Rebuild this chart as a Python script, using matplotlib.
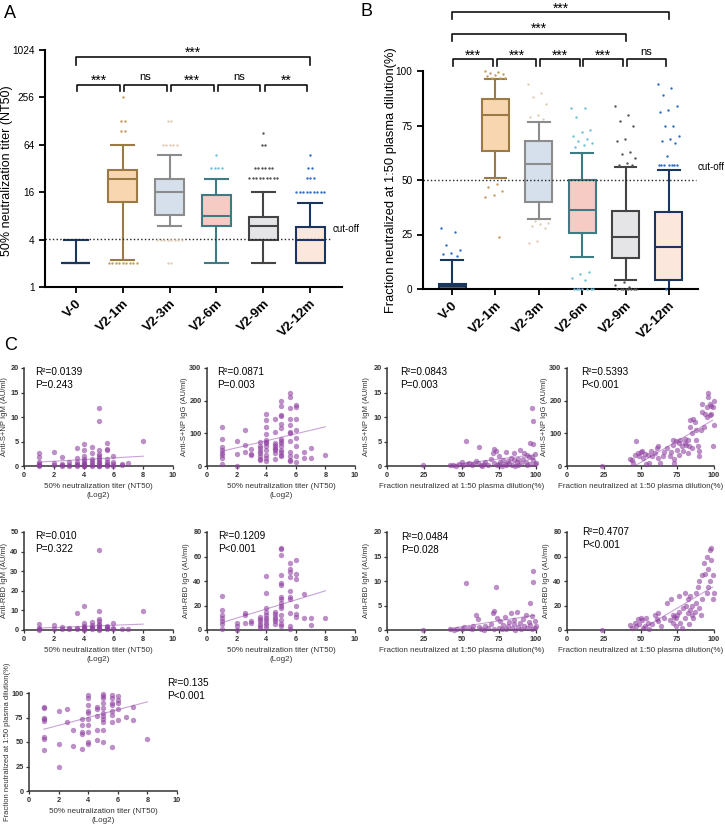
import numpy as np
import matplotlib
matplotlib.use("Agg")
import matplotlib.pyplot as plt
from collections import Counter

plt.rcParams["font.family"] = ["Liberation Sans", "DejaVu Sans"]

W, H = 725, 831

# ---------------- data ----------------
groups = ["V-0", "V2-1m", "V2-3m", "V2-6m", "V2-9m", "V2-12m"]

# panel A: NT50 (log2 axis)
a_q1 = [2, 12, 8.2, 6, 4, 2]
a_med = [2, 23.6, 16, 8, 6, 4]
a_q3 = [2, 30.7, 23.6, 14.7, 7.8, 5.8]
a_lo = [2, 2.2, 6, 2, 2, 2]
a_hi = [4, 64, 47.5, 23.6, 16, 11.8]
a_fliers = [
    [],
    [256, 128, 128, 96, 96] + [2] * 9,
    [128, 128] + [64] * 5 + [4] * 8 + [2, 2],
    [48] + [32] * 4,
    [90, 64, 64] + [32] * 6 + [24] * 9,
    [48, 32, 32, 24, 24, 24] + [16] * 9,
]
a_sig = ["***", "ns", "***", "ns", "**"]
a_sig_all = "***"
cutoff_a = 4.1

# panel B: fraction neutralized (%)
b_q1 = [0, 63.3, 40, 25.7, 14.2, 4.1]
b_med = [1.5, 79.8, 57.2, 36.2, 23.9, 19.4]
b_q3 = [2.2, 87, 68, 50, 35.8, 35.3]
b_lo = [0, 51, 32, 14.8, 4.1, 0]
b_hi = [13.5, 96.5, 76.6, 62.3, 56.1, 54.6]
b_fliers = [
    [28, 26, 20, 18, 16.5, 16, 15],
    [100, 99.5, 99, 98.5, 98, 97.5, 97, 97, 96.8, 48, 47, 45, 43, 42, 24],
    [94, 90, 88, 85, 80, 79, 78, 31, 30.5, 30, 29, 28, 22, 21],
    [83, 83, 79, 73, 72, 70, 69, 68, 67, 66, 65, 8, 7, 5, 4, 0, 0, 0, 0, 0, 0, 0],
    [84, 80, 77, 75, 69, 68, 63, 62, 60, 58, 57, 57, 3, 2, 1, 0, 0, 0, 0, 0, 0, 0, 0],
    [94, 92, 89, 84, 82, 81, 75, 75, 70, 69, 68, 67, 61, 57, 57, 57, 57, 57, 57, 57, 0],
]
b_sig = ["***", "***", "***", "***", "ns"]
b_sig_v0_9m = "***"
b_sig_v0_12m = "***"
cutoff_b = 50

box_faces_a = ["white", "#f8d6b0", "#d5e0ec", "#f5cbc4", "#e5e5e8", "#fce7dd"]
box_faces_b = ["#6b6b6b", "#f8d6b0", "#d5e0ec", "#f5cbc4", "#e5e5e8", "#fce7dd"]
box_edges = ["#1b365d", "#9c7a45", "#8c8c8c", "#3f7b82", "#444444", "#1a3560"]
flier_colors = ["#2f6ec7", "#c49a5e", "#e0cdb5", "#6cc0da", "#555555", "#2f6ec7"]

# panel C: correlations (NT50 in log2 -> list of y values)
c1_nt50_igm = {1: [2.7, 1.8, 0.8, 0.5, 0.3, 0.2, 0.1], 2: [2.8, 0.6, 0.3], 2.58: [1.8, 0.4, 0.2, 0.1],
               3: [0.8, 0.3, 0.1], 3.58: [3.6, 1.6, 0.8, 0.5, 0.3, 0.1],
               4: [4.5, 3.3, 2.0, 1.4, 1.0, 0.7, 0.4, 0.2, 0.1, 0.0],
               4.58: [3.8, 2.6, 1.5, 1.0, 0.6, 0.3, 0.1],
               5: [11.8, 9.1, 3.2, 2.4, 2.0, 1.6, 1.2, 0.9, 0.6, 0.3, 0.1, 0.0],
               5.58: [4.7, 3.4, 3.3, 1.4, 0.9, 0.5, 0.2, 0.1], 6: [2.0, 0.8, 0.4, 0.1],
               6.58: [0.5, 0.2], 7: [0.6], 8: [5.2]}
c2_nt50_igg = {1: [120, 82, 57, 50, 40, 35, 25, 5], 2: [78, 36, 0], 2.58: [111, 65, 43], 3: [53, 38, 34],
               3.58: [73, 62, 55, 47, 40, 30, 22, 18],
               4: [160, 140, 120, 98, 80, 75, 70, 60, 48, 35, 25, 14],
               4.58: [145, 105, 70, 65, 58, 52, 48, 40, 20],
               5: [200, 185, 157, 153, 130, 115, 82, 78, 70, 62, 50, 42, 35, 30],
               5.58: [222, 212, 178, 145, 125, 105, 100, 78, 42, 30, 18, 14],
               6: [188, 180, 145, 110, 85, 62, 30, 12], 6.58: [42, 23], 7: [55, 25], 8: [35]}
c3_frac = [24, 42, 44, 46, 48, 50, 51, 53, 54, 55, 57, 58, 60, 61, 62, 63, 64, 65, 66, 68, 70, 71, 72, 72,
           73, 74, 75, 75, 76, 77, 78, 79, 80, 80, 81, 82, 83, 84, 85, 85, 86, 87, 88, 88, 89, 90, 91, 92,
           93, 94, 95, 96, 96, 97, 98, 98, 98, 99, 99, 100, 97, 94]
c3_igm = [0.2, 0.3, 0.2, 0.1, 0.5, 0.8, 0.3, 5.2, 0.5, 0.7, 0.2, 0.4, 1.1, 0.6, 3.8, 0.3, 0.1, 0.5, 0.8,
          0.3, 1.5, 2.6, 3.5, 0.7, 3.1, 0.2, 2.0, 0.4, 0.9, 0.1, 1.3, 0.5, 2.8, 0.2, 1.0, 0.6, 1.7, 0.3,
          2.7, 1.2, 0.1, 0.8, 1.4, 0.3, 3.2, 0.6, 1.5, 2.7, 0.9, 0.2, 1.8, 4.6, 0.5, 11.8, 9.1, 4.5, 1.2,
          0.4, 2.4, 0.6, 1.8, 2.2]
c4_frac = [24, 43, 44, 45, 46, 47, 48, 49, 50, 51, 52, 53, 54, 55, 56, 57, 58, 60, 61, 62, 62, 63, 65, 66,
           68, 70, 71, 72, 72, 73, 73, 74, 75, 76, 76, 77, 78, 79, 80, 80, 81, 82, 82, 83, 84, 84, 85, 85,
           86, 87, 88, 88, 89, 90, 90, 91, 92, 92, 93, 94, 95, 95, 96, 96, 97, 97, 98, 98, 99, 99, 100, 100]
c4_igg = [0, 22, 18, 10, 35, 78, 40, 30, 42, 45, 25, 38, 5, 35, 10, 45, 30, 40, 55, 62, 25, 10, 30, 42,
          55, 30, 42, 80, 65, 10, 22, 78, 50, 35, 70, 80, 60, 45, 82, 70, 65, 80, 40, 60, 120, 140, 100, 55,
          145, 135, 80, 110, 60, 45, 30, 110, 165, 190, 120, 160, 180, 150, 222, 210, 190, 155, 185, 160,
          180, 62, 125, 200]
c5_nt50_igm = {1: [3, 1, 0.5, 0.2], 2: [2.8, 0.5], 2.58: [1.4, 0.5], 3: [0.8, 0.3], 3.58: [8.8, 1.0, 0.5],
               4: [12.2, 3.5, 2.2, 1.5, 1.0, 0.5, 0.2], 4.58: [4.0, 2.5, 1.5, 0.8, 0.3],
               5: [41, 9.8, 5.8, 4.5, 3.2, 2.5, 1.6, 1.0, 0.5, 0.2], 5.58: [2.0, 1.5, 0.8, 0.3],
               6: [3.5, 1.0, 0.3], 6.58: [0.5], 7: [0.3], 8: [9.5]}
c6_nt50_igg = {1: [28, 16, 12, 10, 7, 5, 1], 2: [6, 3, 0], 2.58: [14, 12, 6], 3: [7, 6],
               3.58: [11, 9, 7, 5, 3, 2], 4: [44, 30, 18, 15, 12, 10, 8, 6, 4, 2],
               4.58: [15, 13, 11, 9, 7, 5],
               5: [67, 66, 61, 45, 38, 37, 27, 25, 22, 20, 18, 12, 8, 5, 3],
               5.58: [55, 50, 47, 43, 32, 27, 25, 14, 3, 1], 6: [57, 46, 42, 20, 13, 11],
               6.58: [29, 10], 7: [10, 4], 8: [10]}
c7_frac = [24, 42, 45, 47, 50, 52, 53, 55, 57, 58, 60, 61, 62, 63, 65, 66, 68, 70, 71, 72, 72, 73, 74, 75,
           76, 77, 78, 79, 80, 81, 82, 83, 84, 85, 85, 86, 87, 88, 89, 90, 91, 92, 93, 94, 95, 96, 96, 97,
           97, 98, 98, 99, 99, 100]
c7_igm = [0.1, 0.2, 0.1, 0.3, 0.2, 0.6, 9.5, 0.4, 0.2, 0.8, 3.0, 2.3, 0.7, 0.3, 0.1, 0.9, 0.4, 1.2, 3.4,
          3.8, 0.2, 8.7, 2.5, 0.5, 1.8, 0.2, 1.0, 2.7, 0.3, 0.8, 1.6, 3.5, 0.4, 2.1, 1.2, 0.1, 3.7, 0.6,
          1.5, 0.2, 2.3, 0.9, 3.1, 0.4, 1.7, 5.5, 1.1, 0.3, 2.8, 9.8, 12.1, 1.9, 0.5, 0.8]
c8_frac = [24, 43, 44, 46, 47, 48, 49, 50, 51, 52, 53, 54, 55, 56, 58, 60, 61, 62, 62, 64, 66, 68, 70, 71,
           72, 72, 73, 74, 74, 75, 76, 76, 77, 78, 79, 80, 80, 81, 82, 82, 83, 84, 84, 85, 85, 86, 87, 88,
           88, 89, 90, 90, 91, 92, 92, 93, 94, 95, 95, 96, 96, 97, 97, 98, 98, 99, 99, 100]
c8_igg = [0, 4, 2, 6, 3, 9, 5, 10, 8, 2, 3, 10, 6, 1, 5, 12, 9, 7, 14, 3, 10, 22, 8, 25, 12, 6, 11, 10, 3,
          12, 15, 28, 6, 2, 18, 10, 30, 20, 14, 25, 5, 16, 28, 12, 20, 10, 15, 30, 22, 35, 40, 18, 12, 45,
          25, 55, 46, 30, 60, 35, 50, 65, 40, 67, 57, 45, 25, 30]
c9_nt50_frac = {1: [86, 85, 75, 73, 71, 55, 53, 42], 2: [82, 48, 24], 2.58: [84, 70], 3: [46, 62],
                3.58: [73, 67, 60, 43, 58], 4: [98, 95, 88, 82, 80, 73, 67, 60, 50, 48],
                4.58: [86, 84, 77, 62, 52], 5: [99, 97, 95, 90, 85, 80, 77, 73, 70, 62, 50],
                5.58: [98, 95, 90, 88, 82, 78, 70, 45], 6: [97, 93, 90, 84, 72], 6.58: [76],
                7: [86, 72], 8: [53]}

# fitted lines: ([x0, x1], [y0, y1])
c1_fit = ([1, 8], [0.8, 2.0])
c2_fit = ([1, 8], [45, 120])
c3_fit = ([42, 99], [0.2, 2.3])
c4_fit = ([46, 99], [0, 140])
c5_fit = ([1, 8], [1.0, 3.0])
c6_fit = ([1, 8], [6, 32])
c7_fit = ([42, 99], [0.3, 3.0])
c8_fit = ([50, 99], [0, 35])
c9_fit = ([1, 8], [63, 91])

c_stats = [("R\u00b2=0.0139", "P=0.243"), ("R\u00b2=0.0871", "P=0.003"), ("R\u00b2=0.0843", "P=0.003"),
           ("R\u00b2=0.5393", "P<0.001"), ("R\u00b2=0.010", "P=0.322"), ("R\u00b2=0.1209", "P<0.001"),
           ("R\u00b2=0.0484", "P=0.028"), ("R\u00b2=0.4707", "P<0.001"), ("R\u00b2=0.135", "P<0.001")]

nt50_label = "50% neutralization titer (NT50)\n(Log2)"
frac_label = "Fraction neutralized at 1:50 plasma dilution(%)"


def expand(d):
    xs, ys = [], []
    for k, v in d.items():
        xs += [k] * len(v)
        ys += v
    return xs, ys


fig = plt.figure(figsize=(W / 100, H / 100), dpi=100)


def px_axes(l, t, r, b):
    return fig.add_axes([l / W, 1 - b / H, (r - l) / W, (b - t) / H])


def style_box_axes(ax):
    ax.spines["top"].set_visible(False)
    ax.spines["right"].set_visible(False)
    ax.spines["left"].set_linewidth(1.5)
    ax.spines["bottom"].set_linewidth(1.5)
    ax.tick_params(width=1.3, length=4, labelsize=7.2)
    ax.set_xticks(range(1, 7))
    ax.set_xticklabels(groups, rotation=45, ha="right", rotation_mode="anchor",
                       fontsize=9.5, fontweight="bold")


def draw_boxes(ax, q1, med, q3, lo, hi, faces):
    stats = [dict(q1=a, med=b, q3=c, whislo=d, whishi=e, fliers=[])
             for a, b, c, d, e in zip(q1, med, q3, lo, hi)]
    bp = ax.bxp(stats, positions=range(1, 7), widths=0.62, capwidths=0.5,
                patch_artist=True, showfliers=False, manage_ticks=False)
    for i in range(6):
        bp["boxes"][i].set(facecolor=faces[i], edgecolor=box_edges[i], linewidth=1.5, zorder=2)
        bp["medians"][i].set(color=box_edges[i], linewidth=1.5, zorder=2.5)
        for art in bp["whiskers"][2 * i:2 * i + 2] + bp["caps"][2 * i:2 * i + 2]:
            art.set(color=box_edges[i], linewidth=1.5)


def bracket(ax, x0, x1, ytop, yend, label, ytext):
    ax.plot([x0, x0, x1, x1], [yend, ytop, ytop, yend], color="#111111", lw=1.2, clip_on=False)
    xc = (x0 + x1) / 2
    if "*" in label:
        # asterisks sit high in the em box: anchor the baseline below the visual centre
        ax.annotate(label, (xc, ytext), xytext=(0, -5.8), textcoords="offset points",
                    ha="center", va="baseline", fontsize=10, annotation_clip=False)
    else:
        ax.text(xc, ytext, label, ha="center", va="center", fontsize=8, clip_on=False)


# ---------------- panel A ----------------
axA = px_axes(45, 50, 342, 287)
axA.set_yscale("log", base=2)
draw_boxes(axA, a_q1, a_med, a_q3, a_lo, a_hi, box_faces_a)
for i, fl in enumerate(a_fliers):
    for val, n in Counter(fl).items():
        offs = (np.arange(n) - (n - 1) / 2) * 0.075
        axA.scatter(i + 1 + offs, [val] * n, s=3, color=flier_colors[i], lw=0, zorder=3, clip_on=False)
axA.set_ylim(1, 1024)
axA.set_xlim(0.34, 6.68)
axA.set_yticks([1, 4, 16, 64, 256, 1024])
axA.set_yticklabels(["1", "4", "16", "64", "256", "1024"])
axA.minorticks_off()
style_box_axes(axA)
axA.plot([0.34, 6.42], [cutoff_a, cutoff_a], ls=":", color="#222222", lw=1)
axA.text(6.48, 5.4, "cut-off", fontsize=7, va="center", clip_on=False)
for i in range(5):
    bracket(axA, i + 1.03, i + 1.94, 367, 311, a_sig[i], 468)
bracket(axA, 1, 6, 827, 662, a_sig_all, 1054)
fig.text(7 / W, 1 - 171 / H, "50% neutralization titer (NT50)", rotation=90,
         ha="center", va="center", fontsize=9)

# ---------------- panel B ----------------
axB = px_axes(423, 71, 698, 289)
draw_boxes(axB, b_q1, b_med, b_q3, b_lo, b_hi, box_faces_b)
for i, fl in enumerate(b_fliers):
    k = np.arange(len(fl))
    offs = ((k * 0.618) % 1 - 0.5) * 0.5
    axB.scatter(i + 1 + offs, fl, s=3, color=flier_colors[i], lw=0, zorder=3, clip_on=False)
axB.set_ylim(0, 100)
axB.set_xlim(0.33, 6.67)
axB.set_yticks([0, 25, 50, 75, 100])
style_box_axes(axB)
axB.plot([0.33, 6.62], [cutoff_b, cutoff_b], ls=":", color="#222222", lw=1)
axB.text(6.66, 56, "cut-off", fontsize=7, va="center", clip_on=False)
for i in range(5):
    bracket(axB, i + 1.03, i + 1.94, 105.5, 102.5, b_sig[i], 108.7)
bracket(axB, 1, 5, 117, 113.8, b_sig_v0_9m, 121)
bracket(axB, 1, 6, 126.9, 124.0, b_sig_v0_12m, 130.2)
fig.text(391 / W, 1 - 180 / H, frac_label, rotation=90, ha="center", va="center", fontsize=9.3)

fig.text(4 / W, 1 - 14 / H, "A", fontsize=13, va="center")
fig.text(361 / W, 1 - 12 / H, "B", fontsize=13, va="center")
fig.text(4 / W, 1 - 346 / H, "C", fontsize=13, va="center")


# ---------------- panel C ----------------
def scatter_panel(box, xs, ys, fit, xmax, ylim, yticks, xlabel, ylabel, stats, txt_xy, ylab_x):
    ax = px_axes(*box)
    ax.scatter(xs, ys, s=15, color="#8e3fa0", alpha=0.58, lw=0, clip_on=False, zorder=3)
    ax.plot(fit[0], fit[1], color="#c9a3d8", lw=0.8, zorder=2)
    ax.set_xlim(0, xmax)
    ax.set_ylim(*ylim)
    ax.set_yticks(yticks)
    ax.set_xticks(np.linspace(0, xmax, 6 if xmax == 10 else 5))
    for s in ["top", "right"]:
        ax.spines[s].set_visible(False)
    for s in ["left", "bottom"]:
        ax.spines[s].set_linewidth(1.1)
        ax.spines[s].set_color("#333333")
    ax.tick_params(length=2.5, width=0.9, labelsize=5.3, pad=1.5, colors="#333333")
    for lab in ax.get_xticklabels() + ax.get_yticklabels():
        lab.set_fontweight("bold")
    ax.set_xlabel(xlabel, fontsize=5.8, labelpad=3, color="#333333", linespacing=1.5)
    l, t, r, b = box
    fig.text(ylab_x / W, 1 - (t + b) / 2 / H, ylabel, rotation=90, ha="center", va="center",
             fontsize=5.5, color="#333333")
    ax.text(txt_xy[0], txt_xy[1], stats[0], transform=ax.transAxes, fontsize=7.2, va="center")
    ax.text(txt_xy[0], txt_xy[1] - 0.13, stats[1], transform=ax.transAxes, fontsize=7.2, va="center")
    return ax


cols = [(24, 173), (207, 355), (387, 536), (567, 714)]
row1 = (368, 466)
row2 = (532, 630)

x1, y1 = expand(c1_nt50_igm)
scatter_panel((cols[0][0], row1[0], cols[0][1], row1[1]), x1, y1, c1_fit, 10, (0, 20), [0, 5, 10, 15, 20],
              nt50_label, "Anti-S+NP IgM (AU/ml)", c_stats[0], (0.075, 0.96), 5)
x2, y2 = expand(c2_nt50_igg)
scatter_panel((cols[1][0], row1[0], cols[1][1], row1[1]), x2, y2, c2_fit, 10, (0, 300), [0, 100, 200, 300],
              nt50_label, "Anti-S+NP IgG (AU/ml)", c_stats[1], (0.07, 0.96), 185)
scatter_panel((cols[2][0], row1[0], cols[2][1], row1[1]), c3_frac, c3_igm, c3_fit, 100, (0, 20),
              [0, 5, 10, 15, 20], frac_label, "Anti-S+NP IgM (AU/ml)", c_stats[2], (0.09, 0.96), 367)
scatter_panel((cols[3][0], row1[0], cols[3][1], row1[1]), c4_frac, c4_igg, c4_fit, 100, (0, 300),
              [0, 100, 200, 300], frac_label, "Anti-S+NP IgG (AU/ml)", c_stats[3], (0.095, 0.96), 545)

x5, y5 = expand(c5_nt50_igm)
scatter_panel((cols[0][0], row2[0], cols[0][1], row2[1]), x5, y5, c5_fit, 10, (0, 50),
              [0, 10, 20, 30, 40, 50], nt50_label, "Anti-RBD IgM (AU/ml)", c_stats[4], (0.075, 0.96), 5)
x6, y6 = expand(c6_nt50_igg)
scatter_panel((cols[1][0], row2[0], cols[1][1], row2[1]), x6, y6, c6_fit, 10, (0, 80), [0, 20, 40, 60, 80],
              nt50_label, "Anti-RBD IgG (AU/ml)", c_stats[5], (0.075, 0.96), 187)
scatter_panel((cols[2][0], row2[0], cols[2][1], row2[1]), c7_frac, c7_igm, c7_fit, 100, (0, 20),
              [0, 5, 10, 15, 20], frac_label, "Anti-RBD IgM (AU/ml)", c_stats[6], (0.095, 0.95), 367)
scatter_panel((cols[3][0], row2[0], cols[3][1], row2[1]), c8_frac, c8_igg, c8_fit, 100, (0, 80),
              [0, 20, 40, 60, 80], frac_label, "Anti-RBD IgG (AU/ml)", c_stats[7], (0.1, 1.0), 546)

x9, y9 = expand(c9_nt50_frac)
scatter_panel((29, 693, 177, 791), x9, y9, c9_fit, 10, (0, 100), [0, 25, 50, 75, 100],
              nt50_label, frac_label, c_stats[8], (0.93, 1.10), 8)

fig.savefig("out.png", dpi=100)
